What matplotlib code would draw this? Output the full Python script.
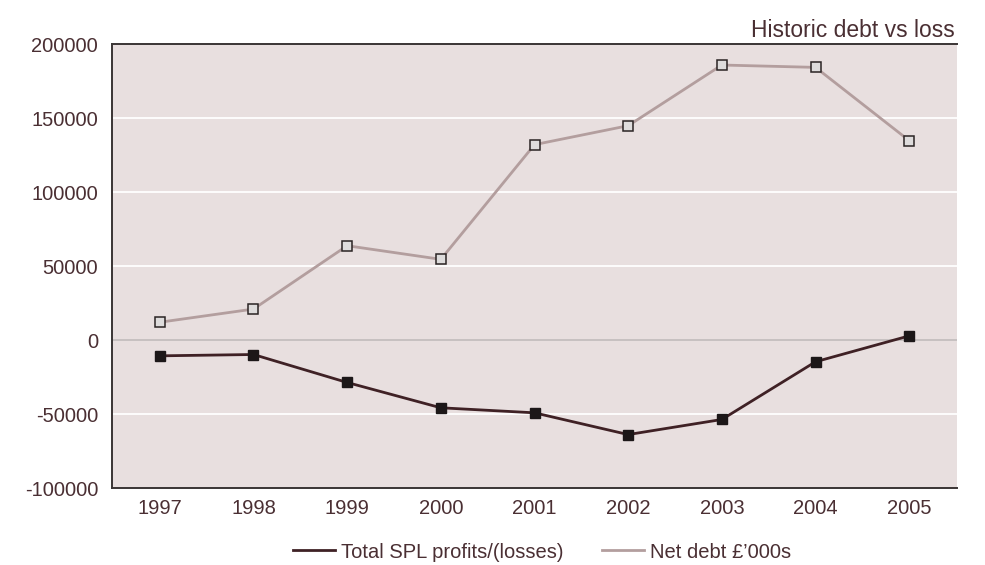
import matplotlib
matplotlib.use("Agg")
import matplotlib.pyplot as plt
from matplotlib.lines import Line2D

years = [1997, 1998, 1999, 2000, 2001, 2002, 2003, 2004, 2005]
profits = [-10700, -9800, -28700, -45800, -49200, -63900, -53700, -14700, 2800]
net_debt = [12000, 20900, 63700, 54500, 132000, 144800, 185800, 184200, 134700]
y_ticks = [-100000, -50000, 0, 50000, 100000, 150000, 200000]

text_color = "#4a2f33"
bg_color = "#e8dfdf"
profit_color = "#3f2125"
debt_color = "#b39e9e"

plt.rcParams["font.family"] = ["Liberation Sans", "DejaVu Sans"]

fig = plt.figure(figsize=(9.85, 5.65), dpi=100)
ax = fig.add_axes([112 / 985, 1 - 488 / 565, (957 - 112) / 985, (488 - 44) / 565])
ax.set_facecolor(bg_color)

for v in y_ticks[1:-1]:
    ax.axhline(v, color="#c4bebe" if v == 0 else "white", lw=1.3, zorder=1)

ax.plot(years, net_debt, color=debt_color, lw=2, marker="s", ms=6.5,
        mfc="#dedcdc", mec="#2a2424", mew=1.1, zorder=3)
ax.plot(years, profits, color=profit_color, lw=2, marker="s", ms=6.5,
        mfc="#1c1718", mec="#1c1718", zorder=3)

ax.set_xlim(1996.49, 2005.51)
ax.set_ylim(-100000, 200000)
ax.set_xticks(years)
ax.set_xticklabels([str(y) for y in years])
ax.set_yticks(y_ticks)
ax.set_yticklabels([str(v) for v in y_ticks])
ax.tick_params(axis="both", length=0, labelsize=14.5, labelcolor=text_color)
ax.tick_params(axis="x", pad=8)
ax.tick_params(axis="y", pad=10)

for side in ("left", "bottom", "top"):
    ax.spines[side].set_color("#3a3535")
    ax.spines[side].set_linewidth(1.4)
ax.spines["right"].set_visible(False)

fig.text(955 / 985, 1 - 37 / 565, "Historic debt vs loss", ha="right", va="baseline",
         fontsize=16.5, color=text_color)

handles = [Line2D([], [], color=profit_color, lw=2),
           Line2D([], [], color=debt_color, lw=2)]
fig.legend(handles, ["Total SPL profits/(losses)", "Net debt £\u2019000s"],
           loc="center", bbox_to_anchor=(542 / 985, 1 - 552 / 565), ncol=2, frameon=False,
           fontsize=14.5, labelcolor=text_color, handlelength=2.1, handletextpad=0.3,
           columnspacing=1.9)

fig.savefig("out.png", dpi=100)
